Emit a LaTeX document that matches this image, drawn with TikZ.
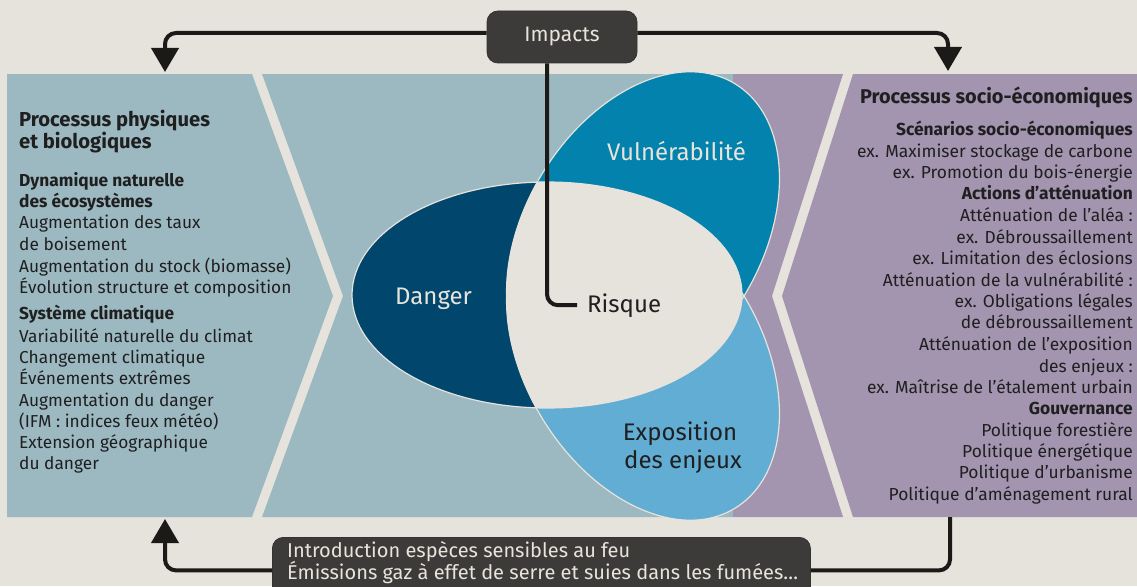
\documentclass[tikz,border=0pt]{standalone}
\usepackage{fontspec}
\setmainfont{Fira Sans}
\usetikzlibrary{arrows.meta}
\definecolor{bgc}{HTML}{E6E3DD}
\definecolor{bluegray}{HTML}{9CB9C2}
\definecolor{purp}{HTML}{A394B0}
\definecolor{navy}{HTML}{00466D}
\definecolor{teal}{HTML}{0282AC}
\definecolor{lblue}{HTML}{62ADD3}
\definecolor{boxc}{HTML}{3D3B39}
\definecolor{linec}{HTML}{1C1A19}
\definecolor{txt}{HTML}{1F1F1F}
\definecolor{lighttxt}{HTML}{E8E4DC}
\begin{document}
\begin{tikzpicture}[x=1pt,y=-1pt,
  lr/.style={anchor=base west, inner sep=0pt, text=txt, font=\fontsize{17.3}{20}\selectfont},
  lb/.style={lr, font=\fontsize{17.3}{20}\selectfont\bfseries},
  lh/.style={lr, font=\fontsize{20.2}{24}\selectfont\bfseries},
  rr/.style={anchor=base east, inner sep=0pt, text=txt, font=\fontsize{17.4}{20}\selectfont},
  rb/.style={rr, font=\fontsize{17.4}{20}\selectfont\bfseries},
  rh/.style={rr, font=\fontsize{19.9}{24}\selectfont\bfseries},
  darkbox/.style={fill=boxc, draw=black!80, line width=0.8pt, rounded corners=11pt},
  conn/.style={draw=linec, line width=4pt, rounded corners=11pt},
  tip/.style={-{Triangle[width=27pt,length=24pt]}},
  bigl/.style={inner sep=0pt, font=\fontsize{24}{28}\selectfont},
  ol/.style={draw=bgc, line width=1.2pt},
  vul/.style={rotate around={58.7:(643,235)}},
  exp/.style={rotate around={-58.7:(643,357)}}
]
\useasboundingbox (0,0) rectangle (1137,586);
\clip (0,0) rectangle (1137,586);
\fill[bgc] (0,0) rectangle (1137,586);

% panels
\fill[bluegray] (7,74) -- (252,74) -- (333,296) -- (252,517) -- (7,517) -- cycle;
\fill[bluegray] (262,74) -- (733,74) -- (733,517) -- (262,517) -- (343,296) -- cycle;
\fill[purp] (733,74) -- (843,74) -- (772,296) -- (843,517) -- (733,517) -- cycle;
\fill[purp] (853,74) -- (1137,74) -- (1137,517) -- (853,517) -- (782,296) -- cycle;

% ellipses
\fill[navy] (547,295) ellipse [x radius=195pt, y radius=113pt];
\fill[teal, vul] (643,235) ellipse [x radius=177pt, y radius=118pt];
\fill[lblue, exp] (643,357) ellipse [x radius=177pt, y radius=118pt];
\begin{scope}
  \clip (547,295) ellipse [x radius=195pt, y radius=113pt];
  \fill[bgc, vul] (643,235) ellipse [x radius=177pt, y radius=118pt];
  \fill[bgc, exp] (643,357) ellipse [x radius=177pt, y radius=118pt];
\end{scope}
\path[ol] (547,295) ellipse [x radius=195pt, y radius=113pt];
\path[ol, vul] (643,235) ellipse [x radius=177pt, y radius=118pt];
\path[ol, exp] (643,357) ellipse [x radius=177pt, y radius=118pt];

% center labels
\node[bigl, anchor=base west, text=lighttxt] (vuln) at (607,160) {Vulnérabilité};
\node[bigl, anchor=base west, text=lighttxt] (danger) at (395,304) {Danger};
\node[bigl, anchor=base west, text=txt] (risque) at (587,312) {Risque};
\node[bigl, anchor=base, text=txt] (expo1) at (680,440) {Exposition};
\node[bigl, anchor=base, text=txt] (expo2) at (683,468) {des enjeux};

% left panel text
\foreach \yy/\st/\tx [count=\i] in {
  126/lh/Processus physiques,
  148/lh/et biologiques,
  186/lb/Dynamique naturelle,
  207/lb/des écosystèmes,
  228/lr/Augmentation des taux,
  250/lr/de boisement,
  272/lr/Augmentation du stock (biomasse),
  293/lr/Évolution structure et composition,
  319/lb/Système climatique,
  342/lr/Variabilité naturelle du climat,
  363/lr/Changement climatique,
  384/lr/Événements extrêmes,
  406/lr/Augmentation du danger,
  427/lr/(IFM : indices feux météo),
  448/lr/Extension géographique,
  469/lr/du danger}
  \node[\st, name=left\i] at (19,\yy) {\tx};

% right panel text
\foreach \yy/\st/\tx [count=\i] in {
  103/rh/Processus socio-économiques,
  135/rb/Scénarios socio-économiques,
  157/rr/ex. Maximiser stockage de carbone,
  178/rr/ex. Promotion du bois-énergie,
  199/rb/Actions d’atténuation,
  221/rr/Atténuation de l’aléa :,
  243/rr/ex. Débroussaillement,
  264/rr/ex. Limitation des éclosions,
  286/rr/Atténuation de la vulnérabilité :,
  307/rr/ex. Obligations légales,
  328/rr/de débroussaillement,
  350/rr/Atténuation de l’exposition,
  372/rr/des enjeux :,
  393/rr/ex. Maîtrise de l’étalement urbain,
  414/rb/Gouvernance,
  436/rr/Politique forestière,
  457/rr/Politique énergétique,
  478/rr/Politique d’urbanisme,
  500/rr/Politique d’aménagement rural}
  \node[\st, name=right\i] at (1133,\yy) {\tx};

% boxes
\node[darkbox, minimum width=150pt, minimum height=52pt, inner sep=0pt,
      text=lighttxt, font=\fontsize{21}{24}\selectfont] (imp) at (562,37) {Impacts};
\node[darkbox, anchor=north west, minimum width=538pt, minimum height=66pt] (emit) at (272,537) {};
\node[anchor=base west, inner sep=0pt, text=lighttxt, font=\fontsize{20}{23}\selectfont] (emit1) at (287,557) {Introduction espèces sensibles au feu};
\node[anchor=base west, inner sep=0pt, text=lighttxt, font=\fontsize{20}{23}\selectfont] (emit2) at (287,579) {Émissions gaz à effet de serre et suies dans les fumées…};

% connectors
\coordinate (ltop) at (165,72);
\coordinate (rtop) at (948,71);
\coordinate (rbot) at (950,517);
\coordinate (lbot) at (165,519);
\draw[conn, tip] ([yshift=4pt]imp.west) -| (ltop);
\draw[conn, tip] ([yshift=4pt]imp.east) -| (rtop);
\draw[conn] ([xshift=-15pt]imp.south) |- ([xshift=-10pt]risque.west);
\draw[conn] (rbot) |- (emit.east);
\draw[conn, tip] (emit.west) -| (lbot);
\end{tikzpicture}
\end{document}
